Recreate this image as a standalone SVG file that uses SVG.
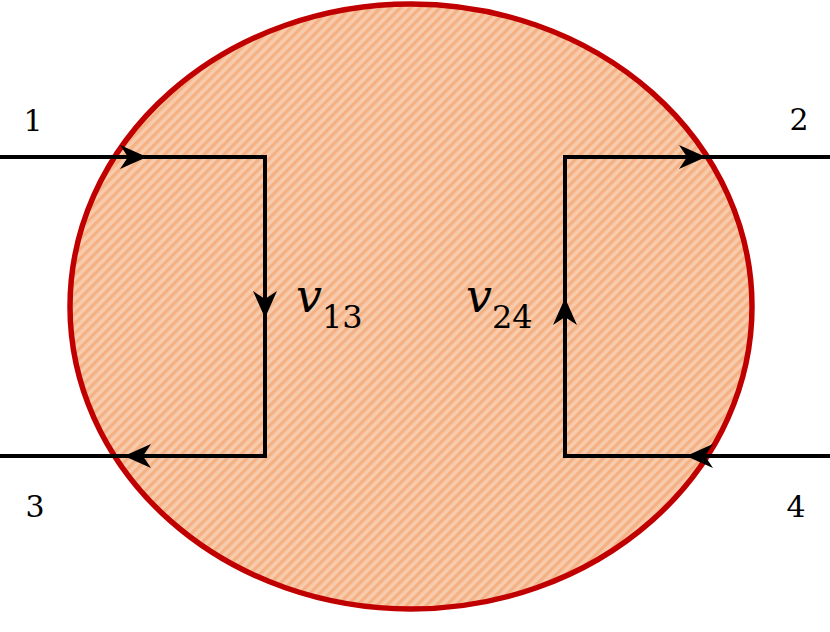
<svg xmlns="http://www.w3.org/2000/svg" xmlns:xlink="http://www.w3.org/1999/xlink" width="830" height="632" viewBox="0 0 830 632">
<style>
.wire{fill:none;stroke:#000;stroke-width:4;stroke-linejoin:miter}
.port{font-family:"DejaVu Serif","Liberation Serif",serif;font-size:30px;fill:#000}
.var{font-family:"DejaVu Serif","Liberation Serif",serif;font-style:italic;font-size:46px;fill:#000}
.sub{font-family:"DejaVu Serif","Liberation Serif",serif;font-size:32px;fill:#000}
</style>
<defs>
<pattern id="hatch" width="7" height="7" patternUnits="userSpaceOnUse" patternTransform="rotate(45)">
<rect width="7" height="7" fill="#F8CBAD"/>
<rect width="3.3" height="7" fill="#F4B183"/>
</pattern>
<path id="ah" d="M0,0 L-27,-12 L-19,0 L-27,12 Z" fill="#000"/>
</defs>
<g id="body">
<ellipse cx="411" cy="306.5" rx="341" ry="302.5" fill="url(#hatch)" stroke="#C00000" stroke-width="5.5"/>
</g>
<g id="connectors">
<polyline class="wire" points="0,157 265,157 265,456 0,456"/>
<polyline class="wire" points="830,456 565,456 565,157 830,157"/>
<use xlink:href="#ah" transform="translate(147,157)"/>
<use xlink:href="#ah" transform="translate(265,318) rotate(90)"/>
<use xlink:href="#ah" transform="translate(124,456) rotate(180)"/>
<use xlink:href="#ah" transform="translate(706,157)"/>
<use xlink:href="#ah" transform="translate(565,298) rotate(-90)"/>
<use xlink:href="#ah" transform="translate(686,456) rotate(180)"/>
</g>
<g id="port1"><text class="port" x="33" y="131" text-anchor="middle">1</text></g>
<g id="port2"><text class="port" x="799" y="130" text-anchor="middle">2</text></g>
<g id="port3"><text class="port" x="35" y="517" text-anchor="middle">3</text></g>
<g id="port4"><text class="port" x="796" y="517" text-anchor="middle">4</text></g>
<g id="v13"><text x="296" y="312"><tspan class="var">v</tspan><tspan class="sub" dy="16">13</tspan></text></g>
<g id="v24"><text x="466" y="312"><tspan class="var">v</tspan><tspan class="sub" dy="16">24</tspan></text></g>
</svg>
